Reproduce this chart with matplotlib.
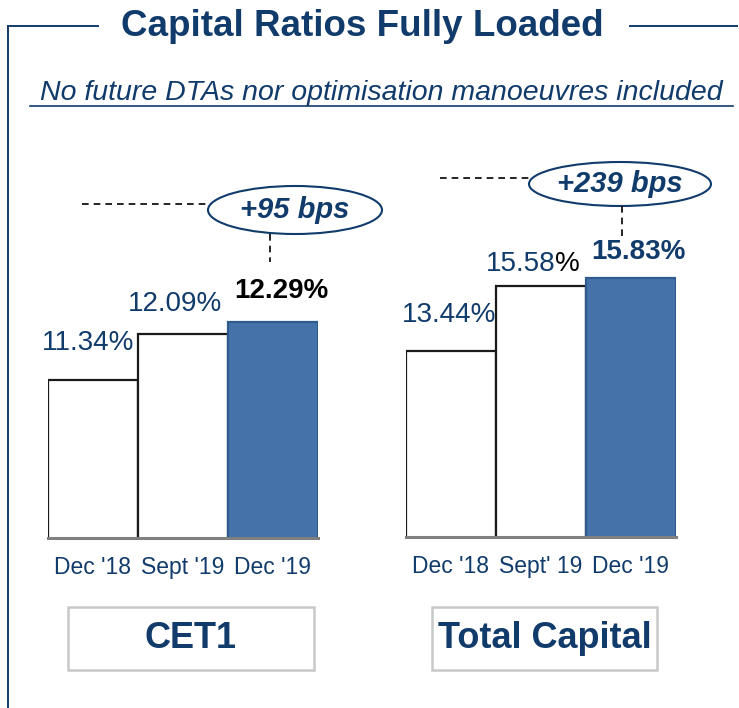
import matplotlib
matplotlib.use("Agg")
import matplotlib.pyplot as plt
from matplotlib.patches import Ellipse, Rectangle
from matplotlib.lines import Line2D

plt.rcParams['font.family'] = ['Liberation Sans', 'DejaVu Sans']

# ---- data ----
cet1_labels = ["Dec '18", "Sept '19", "Dec '19"]
cet1_values = [11.34, 12.09, 12.29]
tc_labels = ["Dec '18", "Sept' 19", "Dec '19"]
tc_values = [13.44, 15.58, 15.83]
deltas = ["+95 bps", "+239 bps"]
panel_names = ["CET1", "Total Capital"]
title = "Capital Ratios Fully Loaded"
subtitle = "No future DTAs nor optimisation manoeuvres included"

NAVY = "#103b6b"
BLUE = "#4573a9"
W, H = 739, 708

fig = plt.figure(figsize=(W / 100, H / 100), dpi=100)


def fx(x):
    return x / W


def fy(y):
    return 1 - y / H


# frame lines
for xs, ys in [([8, 98], [26, 26]), ([630, 737], [26, 26]), ([8, 8], [26, 708])]:
    fig.add_artist(Line2D([fx(v) for v in xs], [fy(v) for v in ys], color=NAVY, lw=1.4))

fig.text(fx(362), fy(27), title, ha='center', va='center', fontsize=26.5,
         fontweight='bold', color=NAVY)
fig.text(fx(381), fy(93), subtitle, ha='center', va='center', fontsize=20.5,
         style='italic', color=NAVY)
fig.add_artist(Line2D([fx(30), fx(733)], [fy(106), fy(106)], color=NAVY, lw=1.2))


def panel(x0, x1, base_y, top_y, ylo, yhi, labels, values, label_offsets, last_color,
          black_pct_index=None):
    ax = fig.add_axes([fx(x0), fy(base_y), fx(x1) - fx(x0), fy(top_y) - fy(base_y)])
    xs = list(range(len(values)))
    colors = ['white', 'white', BLUE]
    edges = ['#1a1a1a', '#1a1a1a', '#2e5a8e']
    ax.bar(xs, values, width=1.0, color=colors, edgecolor=edges, linewidth=1.6, zorder=2)
    ax.set_xlim(-0.5, len(values) - 0.5)
    ax.set_ylim(ylo, yhi)
    for s in ['top', 'right', 'left']:
        ax.spines[s].set_visible(False)
    ax.spines['bottom'].set_color('#808080')
    ax.spines['bottom'].set_linewidth(2.2)
    ax.spines['bottom'].set_zorder(3)
    ax.set_yticks([])
    ax.set_xticks(xs)
    ax.set_xticklabels(labels, fontsize=16.5, color=NAVY)
    ax.tick_params(axis='x', length=0, pad=13)
    ax.patch.set_alpha(0)
    for i, v in enumerate(values):
        dx, dy = label_offsets[i]
        last = i == len(values) - 1
        if i == black_pct_index:
            ax.annotate(f"{v:.2f}", (i, v), xytext=(dx + 20, dy), textcoords='offset pixels',
                        ha='right', va='center', fontsize=20, color=NAVY)
            ax.annotate("%", (i, v), xytext=(dx + 20, dy), textcoords='offset pixels',
                        ha='left', va='center', fontsize=20, color='black')
            continue
        ax.annotate(f"{v:.2f}%", (i, v), xytext=(dx, dy), textcoords='offset pixels',
                    ha='center', va='center', fontsize=20,
                    fontweight='bold' if last else 'normal',
                    color=last_color if last else NAVY)
    return ax


ax1 = panel(48, 318, 538, 140, 8.75, 8.75 + 398 / 61.0, cet1_labels, cet1_values,
            [(-5, 37), (-8, 30), (8, 31)], 'black')
ax2 = panel(406, 676, 537, 140, 7.34, 7.34 + 397 / 30.5, tc_labels, tc_values,
            [(-2, 36), (-6, 22), (7, 26)], NAVY, black_pct_index=1)

# callouts
for (cx, cy, ew, eh, hx0, hx1, hy, vy0, vy1, vx), txt in zip(
        [(295, 210, 174, 48, 82, 208, 204, 234, 262, 270),
         (620, 184, 182, 44, 440, 529, 178, 206, 240, 622)], deltas):
    fig.add_artist(Ellipse((fx(cx), fy(cy)), fx(ew), eh / H, transform=fig.transFigure,
                           facecolor='white', edgecolor=NAVY, lw=1.5))
    fig.text(fx(cx), fy(cy), txt, ha='center', va='center', fontsize=21,
             fontweight='bold', style='italic', color=NAVY)
    fig.add_artist(Line2D([fx(hx0), fx(hx1)], [fy(hy), fy(hy)], color='black', lw=1.2,
                          linestyle=(0, (4, 3))))
    fig.add_artist(Line2D([fx(vx), fx(vx)], [fy(vy0), fy(vy1)], color='black', lw=1.2,
                          linestyle=(0, (4, 3))))

# name boxes
for (bx0, bx1), name in zip([(68, 314), (432, 657)], panel_names):
    fig.add_artist(Rectangle((fx(bx0), fy(670)), fx(bx1 - bx0), (670 - 607) / H,
                             transform=fig.transFigure, facecolor='white',
                             edgecolor='#c8c8c8', lw=1.8))
    fig.text(fx((bx0 + bx1) / 2), fy(639), name, ha='center', va='center', fontsize=26,
             fontweight='bold', color=NAVY)

fig.savefig("out.png", dpi=100)
